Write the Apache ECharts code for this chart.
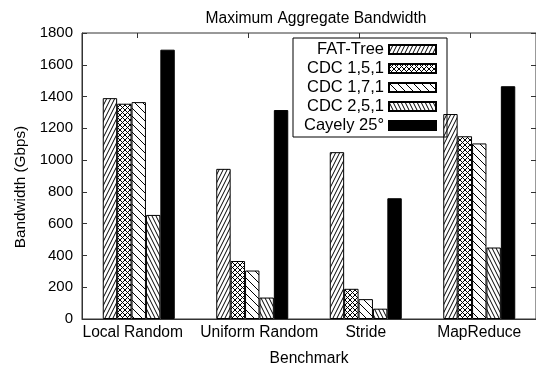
<!DOCTYPE html>
<html>
<head>
<meta charset="utf-8">
<script src="https://cdn.jsdelivr.net/npm/echarts@6/dist/echarts.min.js"></script>
<style>
html,body{margin:0;padding:0;background:#fff;}
#chart{width:536px;height:372px;}
</style>
</head>
<body>
<div id="chart"></div>
<script>
const categories = ['Local Random', 'Uniform Random', 'Stride', 'MapReduce'];
const seriesNames = ['FAT-Tree', 'CDC 1,5,1', 'CDC 1,7,1', 'CDC 2,5,1', 'Cayely 25°'];
const fatTree = [1390, 945, 1050, 1290];
const cdc151 = [1355, 365, 190, 1150];
const cdc171 = [1365, 305, 125, 1105];
const cdc251 = [655, 135, 65, 450];
const cayley = [1695, 1315, 760, 1465];
const yTicks = [0, 200, 400, 600, 800, 1000, 1200, 1400, 1600, 1800];

function pattern(kind) {
  const c = document.createElement('canvas');
  let w, h;
  if (kind === 'fwd') { w = 4; h = 8; }
  else if (kind === 'cross') { w = 5; h = 5; }
  else if (kind === 'back45') { w = 8; h = 8; }
  else { w = 4; h = 8; }
  c.width = w; c.height = h;
  const g = c.getContext('2d');
  g.fillStyle = '#fff'; g.fillRect(0, 0, w, h);
  g.strokeStyle = '#000'; g.lineWidth = 1;
  const line = (x0, y0, x1, y1) => { g.beginPath(); g.moveTo(x0, y0); g.lineTo(x1, y1); g.stroke(); };
  for (let k = -1; k <= 1; k++) {
    const o = k * w;
    if (kind === 'fwd' || kind === 'cross') line(o, h, o + w, 0);
    if (kind === 'cross' || kind === 'back45' || kind === 'back') line(o, 0, o + w, h);
  }
  return { image: c, repeat: 'repeat' };
}

const fills = [pattern('fwd'), pattern('cross'), pattern('back45'), pattern('back'), '#000'];
const values = [fatTree, cdc151, cdc171, cdc251, cayley];

const chart = echarts.init(document.getElementById('chart'), null, { renderer: 'canvas' });
const font = 'Liberation Sans, Arial, Helvetica, sans-serif';
const lblStyle = { fontFamily: font, fontSize: 15.6, color: '#000' };
chart.setOption({
  animation: false,
  backgroundColor: '#fff',
  textStyle: { fontFamily: font, color: '#000' },
  title: {
    text: 'Maximum Aggregate Bandwidth',
    left: 311, top: 6, textAlign: 'center',
    textStyle: { fontFamily: font, fontSize: 15.6, fontWeight: 'normal', color: '#000' }
  },
  grid: [
    { left: 82, top: 33, width: 456, height: 289, show: true, borderColor: '#333', borderWidth: 1, containLabel: false },
    { left: 82, top: 33, width: 444, height: 289, show: false }
  ],
  legend: {
    orient: 'vertical',
    left: 293, top: 38,
    align: 'right',
    itemWidth: 47, itemHeight: 9, itemGap: 2,
    padding: [3, 10, 3, 6],
    borderColor: '#000', borderWidth: 1,
    icon: 'rect',
    textStyle: { fontFamily: font, fontSize: 16.5, color: '#000', width: 85, align: 'right', lineHeight: 15 },
    data: seriesNames
  },
  xAxis: [
    {
      type: 'category', gridIndex: 0, data: categories, position: 'bottom',
      axisLine: { lineStyle: { color: '#333' } },
      axisTick: { show: false },
      axisLabel: {
        fontFamily: font, fontSize: 15.6, color: '#000', margin: 6, interval: 0,
        formatter: (v, i) => i === 0 ? '{l|' + v + '}' : (i === 1 ? '{r|' + v + '}' : v),
        rich: {
          l: Object.assign({ padding: [0, 12, 0, 0] }, lblStyle),
          r: Object.assign({ padding: [0, 0, 0, 14] }, lblStyle)
        }
      },
      name: 'Benchmark', nameLocation: 'middle', nameGap: 32,
      nameTextStyle: { fontFamily: font, fontSize: 15.6, color: '#000' }
    },
    {
      type: 'category', gridIndex: 1, data: categories, position: 'top',
      axisLine: { show: false, onZero: false },
      axisTick: { show: true, inside: true, alignWithLabel: true, interval: 0, length: 5, lineStyle: { color: '#333' } },
      axisLabel: { show: false, interval: 0 }
    }
  ],
  yAxis: [
    {
      type: 'value', gridIndex: 0, min: 0, max: 1800, interval: 200, position: 'left',
      axisLine: { show: true, lineStyle: { color: '#333' } },
      axisTick: { show: true, inside: true, length: 5, lineStyle: { color: '#333' } },
      splitLine: { show: false },
      axisLabel: { fontFamily: font, fontSize: 15, color: '#000', margin: 9, formatter: v => String(v) },
      name: 'Bandwidth (Gbps)', nameLocation: 'middle', nameGap: 52,
      nameTextStyle: { fontFamily: font, fontSize: 15.3, color: '#000', padding: [0, 22, 0, 0] }
    },
    {
      type: 'value', gridIndex: 0, min: 0, max: 1800, interval: 200, position: 'right',
      axisLine: { show: false },
      axisTick: { show: true, inside: true, length: 5, lineStyle: { color: '#333' } },
      splitLine: { show: false },
      axisLabel: { show: false }
    },
    { type: 'value', gridIndex: 1, show: false, min: 0, max: 1 }
  ],
  series: seriesNames.map((name, i) => ({
    name, type: 'bar', xAxisIndex: 0, yAxisIndex: 0,
    data: values[i],
    barWidth: 14.4, barGap: '0%',
    itemStyle: { color: fills[i], borderColor: '#000', borderWidth: 1 }
  }))
});
</script>
</body>
</html>
